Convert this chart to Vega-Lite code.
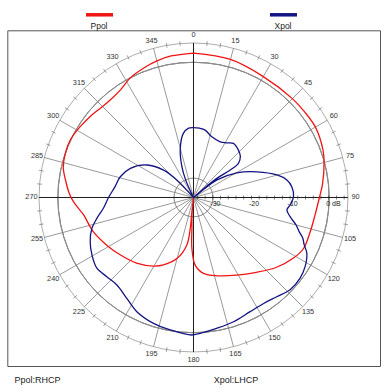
{
  "$schema": "https://vega.github.io/schema/vega-lite/v6.json",
  "width": 372.7,
  "height": 335.7,
  "autosize": {"type": "none"},
  "padding": {"left": 7.3, "top": 30.3, "right": 6, "bottom": 26},
  "background": "white",
  "config": {
    "view": {"stroke": "#555555", "strokeWidth": 1},
    "font": "Liberation Sans"
  },
  "datasets": {
    "pattern": [
      {"pol": "Ppol", "angle": 0, "db": 2.4},
      {"pol": "Ppol", "angle": 15, "db": 2.0},
      {"pol": "Ppol", "angle": 30, "db": 1.15},
      {"pol": "Ppol", "angle": 45, "db": 1.2},
      {"pol": "Ppol", "angle": 52, "db": 1.3},
      {"pol": "Ppol", "angle": 60, "db": 1.45},
      {"pol": "Ppol", "angle": 70, "db": 0.7},
      {"pol": "Ppol", "angle": 75, "db": 0.0},
      {"pol": "Ppol", "angle": 84, "db": -1.4},
      {"pol": "Ppol", "angle": 90, "db": -2.4},
      {"pol": "Ppol", "angle": 98, "db": -3.2},
      {"pol": "Ppol", "angle": 106, "db": -3.5},
      {"pol": "Ppol", "angle": 115, "db": -3.6},
      {"pol": "Ppol", "angle": 121, "db": -4.7},
      {"pol": "Ppol", "angle": 130, "db": -6.9},
      {"pol": "Ppol", "angle": 140, "db": -9.7},
      {"pol": "Ppol", "angle": 151, "db": -12.0},
      {"pol": "Ppol", "angle": 163, "db": -13.8},
      {"pol": "Ppol", "angle": 172.5, "db": -15.2},
      {"pol": "Ppol", "angle": 178.6, "db": -17.5},
      {"pol": "Ppol", "angle": 181.8, "db": -21.8},
      {"pol": "Ppol", "angle": 183, "db": -27.2},
      {"pol": "Ppol", "angle": 185, "db": -30.5},
      {"pol": "Ppol", "angle": 185, "db": -35},
      {"pol": "Ppol", "angle": 186.4, "db": -31.3},
      {"pol": "Ppol", "angle": 186, "db": -27},
      {"pol": "Ppol", "angle": 188, "db": -22.6},
      {"pol": "Ppol", "angle": 195, "db": -18.7},
      {"pol": "Ppol", "angle": 204, "db": -15.9},
      {"pol": "Ppol", "angle": 210, "db": -14.5},
      {"pol": "Ppol", "angle": 221, "db": -12.5},
      {"pol": "Ppol", "angle": 232, "db": -10.9},
      {"pol": "Ppol", "angle": 241, "db": -9.4},
      {"pol": "Ppol", "angle": 251, "db": -7.6},
      {"pol": "Ppol", "angle": 261, "db": -6.2},
      {"pol": "Ppol", "angle": 264.6, "db": -5.1},
      {"pol": "Ppol", "angle": 268, "db": -3.9},
      {"pol": "Ppol", "angle": 272, "db": -2.8},
      {"pol": "Ppol", "angle": 278, "db": -1.5},
      {"pol": "Ppol", "angle": 283, "db": -0.4},
      {"pol": "Ppol", "angle": 289, "db": 0.1},
      {"pol": "Ppol", "angle": 295, "db": 0.2},
      {"pol": "Ppol", "angle": 302, "db": -0.4},
      {"pol": "Ppol", "angle": 308, "db": -1.0},
      {"pol": "Ppol", "angle": 314, "db": -1.6},
      {"pol": "Ppol", "angle": 319.5, "db": -1.8},
      {"pol": "Ppol", "angle": 326, "db": -1.3},
      {"pol": "Ppol", "angle": 332, "db": 0.0},
      {"pol": "Ppol", "angle": 339, "db": 0.9},
      {"pol": "Ppol", "angle": 345, "db": 1.6},
      {"pol": "Ppol", "angle": 351, "db": 2.1},
      {"pol": "Ppol", "angle": 360, "db": 2.4},
      {"pol": "Xpol", "angle": 330, "db": -35},
      {"pol": "Xpol", "angle": 336, "db": -30},
      {"pol": "Xpol", "angle": 339.4, "db": -26.5},
      {"pol": "Xpol", "angle": 344.4, "db": -22.2},
      {"pol": "Xpol", "angle": 351, "db": -18.2},
      {"pol": "Xpol", "angle": 356, "db": -17.0},
      {"pol": "Xpol", "angle": 0, "db": -16.9},
      {"pol": "Xpol", "angle": 5, "db": -17.0},
      {"pol": "Xpol", "angle": 9.8, "db": -17.3},
      {"pol": "Xpol", "angle": 16.8, "db": -18.6},
      {"pol": "Xpol", "angle": 25.6, "db": -19.0},
      {"pol": "Xpol", "angle": 31, "db": -18.5},
      {"pol": "Xpol", "angle": 36.4, "db": -17.6},
      {"pol": "Xpol", "angle": 43.5, "db": -18.1},
      {"pol": "Xpol", "angle": 48.9, "db": -18.9},
      {"pol": "Xpol", "angle": 52.8, "db": -20.4},
      {"pol": "Xpol", "angle": 53.2, "db": -23.1},
      {"pol": "Xpol", "angle": 50.6, "db": -27.2},
      {"pol": "Xpol", "angle": 50, "db": -35},
      {"pol": "Xpol", "angle": 53.2, "db": -27.4},
      {"pol": "Xpol", "angle": 60.3, "db": -22.1},
      {"pol": "Xpol", "angle": 67.9, "db": -17.3},
      {"pol": "Xpol", "angle": 74.9, "db": -12.6},
      {"pol": "Xpol", "angle": 79.4, "db": -10.4},
      {"pol": "Xpol", "angle": 83.7, "db": -9.4},
      {"pol": "Xpol", "angle": 89.5, "db": -9.1},
      {"pol": "Xpol", "angle": 94.4, "db": -9.9},
      {"pol": "Xpol", "angle": 97.6, "db": -10.6},
      {"pol": "Xpol", "angle": 101.2, "db": -9.5},
      {"pol": "Xpol", "angle": 105, "db": -7.5},
      {"pol": "Xpol", "angle": 108, "db": -6.2},
      {"pol": "Xpol", "angle": 110.4, "db": -4.8},
      {"pol": "Xpol", "angle": 113, "db": -3.9},
      {"pol": "Xpol", "angle": 116.2, "db": -2.3},
      {"pol": "Xpol", "angle": 121.8, "db": -1.0},
      {"pol": "Xpol", "angle": 127.1, "db": -0.4},
      {"pol": "Xpol", "angle": 133.7, "db": -0.4},
      {"pol": "Xpol", "angle": 140, "db": -1.45},
      {"pol": "Xpol", "angle": 146.5, "db": -2.1},
      {"pol": "Xpol", "angle": 153.6, "db": -2.0},
      {"pol": "Xpol", "angle": 162.1, "db": -1.2},
      {"pol": "Xpol", "angle": 170, "db": -0.6},
      {"pol": "Xpol", "angle": 177.2, "db": 0.2},
      {"pol": "Xpol", "angle": 180.7, "db": 0.6},
      {"pol": "Xpol", "angle": 190, "db": -0.2},
      {"pol": "Xpol", "angle": 197.6, "db": -0.8},
      {"pol": "Xpol", "angle": 206.4, "db": -2.0},
      {"pol": "Xpol", "angle": 213.5, "db": -3.7},
      {"pol": "Xpol", "angle": 221.2, "db": -4.9},
      {"pol": "Xpol", "angle": 227.6, "db": -4.6},
      {"pol": "Xpol", "angle": 233.8, "db": -4.0},
      {"pol": "Xpol", "angle": 240.5, "db": -4.8},
      {"pol": "Xpol", "angle": 246.8, "db": -5.9},
      {"pol": "Xpol", "angle": 253.1, "db": -7.5},
      {"pol": "Xpol", "angle": 257.8, "db": -9.4},
      {"pol": "Xpol", "angle": 263.2, "db": -11.5},
      {"pol": "Xpol", "angle": 270, "db": -13.0},
      {"pol": "Xpol", "angle": 277.9, "db": -14.5},
      {"pol": "Xpol", "angle": 285.8, "db": -15.3},
      {"pol": "Xpol", "angle": 294.8, "db": -17.0},
      {"pol": "Xpol", "angle": 304.9, "db": -20.3},
      {"pol": "Xpol", "angle": 312.5, "db": -24.5},
      {"pol": "Xpol", "angle": 316.5, "db": -28.8},
      {"pol": "Xpol", "angle": 320, "db": -35}
    ],
    "rings": [{"db": -30}, {"db": -20}, {"db": -10}, {"db": 0}, {"db": 5}],
    "spokes": [
      {"a": 0}, {"a": 15}, {"a": 30}, {"a": 45}, {"a": 60}, {"a": 75},
      {"a": 90}, {"a": 105}, {"a": 120}, {"a": 135}, {"a": 150}, {"a": 165},
      {"a": 180}, {"a": 195}, {"a": 210}, {"a": 225}, {"a": 240}, {"a": 255},
      {"a": 270}, {"a": 285}, {"a": 300}, {"a": 315}, {"a": 330}, {"a": 345}
    ],
    "minor": [
      {"a": 5}, {"a": 10}, {"a": 20}, {"a": 25}, {"a": 35}, {"a": 40},
      {"a": 50}, {"a": 55}, {"a": 65}, {"a": 70}, {"a": 80}, {"a": 85},
      {"a": 95}, {"a": 100}, {"a": 110}, {"a": 115}, {"a": 125}, {"a": 130},
      {"a": 140}, {"a": 145}, {"a": 155}, {"a": 160}, {"a": 170}, {"a": 175},
      {"a": 185}, {"a": 190}, {"a": 200}, {"a": 205}, {"a": 215}, {"a": 220},
      {"a": 230}, {"a": 235}, {"a": 245}, {"a": 250}, {"a": 260}, {"a": 265},
      {"a": 275}, {"a": 280}, {"a": 290}, {"a": 295}, {"a": 305}, {"a": 310},
      {"a": 320}, {"a": 325}, {"a": 335}, {"a": 340}, {"a": 350}, {"a": 355}
    ],
    "rticks": [
      {"db": -34}, {"db": -32}, {"db": -30}, {"db": -28}, {"db": -26},
      {"db": -24}, {"db": -22}, {"db": -20}, {"db": -18}, {"db": -16},
      {"db": -14}, {"db": -12}, {"db": -10}, {"db": -8}, {"db": -6},
      {"db": -4}, {"db": -2}, {"db": 0}, {"db": 2}, {"db": 4}
    ],
    "rlabels": [
      {"db": -30, "t": "-30"}, {"db": -20, "t": "-20"},
      {"db": -10, "t": "-10"}, {"db": 0, "t": "0 dB"}
    ]
  },
  "encoding": {
    "x": {
      "field": "X", "type": "quantitative",
      "scale": {"domain": [-48.207, 48.285], "nice": false, "zero": false},
      "axis": {
        "title": "Xpol:LHCP", "domain": false, "ticks": false, "labels": false, "grid": false,
        "titleAngle": 0, "titleX": 206, "titleY": 9.5, "titleAlign": "left", "titleBaseline": "top",
        "titleFont": "Liberation Sans", "titleFontSize": 9, "titleFontWeight": "normal", "titleColor": "#222222"
      }
    },
    "y": {
      "field": "Y", "type": "quantitative",
      "scale": {"domain": [-43.625, 43.288], "nice": false, "zero": false},
      "axis": {
        "title": "Ppol:RHCP", "domain": false, "ticks": false, "labels": false, "grid": false,
        "titleAngle": 0, "titleX": 6.7, "titleY": 345.2, "titleAlign": "left", "titleBaseline": "top",
        "titleFont": "Liberation Sans", "titleFontSize": 9, "titleFontWeight": "normal", "titleColor": "#222222"
      }
    }
  },
  "layer": [
    {
      "data": {"name": "rings"},
      "transform": [
        {"calculate": "0", "as": "X"},
        {"calculate": "0", "as": "Y"}
      ],
      "mark": {"type": "arc", "filled": false, "fill": null, "stroke": "#8a8a8a", "strokeWidth": 0.7, "theta": 0, "theta2": 6.2832},
      "encoding": {
        "radius": {"field": "db", "type": "quantitative", "scale": {"type": "linear", "domain": [-35, 5], "range": [0, 154.5], "zero": false, "nice": false}}
      }
    },
    {
      "data": {"name": "spokes"},
      "transform": [
        {"calculate": "0", "as": "X"},
        {"calculate": "0", "as": "Y"},
        {"calculate": "40*sin(datum.a*PI/180)", "as": "X2"},
        {"calculate": "40*cos(datum.a*PI/180)", "as": "Y2"}
      ],
      "mark": {"type": "rule"},
      "encoding": {
        "x2": {"field": "X2"},
        "y2": {"field": "Y2"},
        "color": {"condition": {"test": "datum.a % 90 === 0", "value": "#1e1e1e"}, "value": "#808080"},
        "strokeWidth": {"condition": {"test": "datum.a % 90 === 0", "value": 1}, "value": 0.8}
      }
    },
    {
      "data": {"name": "minor"},
      "transform": [
        {"calculate": "39.4*sin(datum.a*PI/180)", "as": "X"},
        {"calculate": "39.4*cos(datum.a*PI/180)", "as": "Y"},
        {"calculate": "40.6*sin(datum.a*PI/180)", "as": "X2"},
        {"calculate": "40.6*cos(datum.a*PI/180)", "as": "Y2"}
      ],
      "mark": {"type": "rule", "color": "#777777", "strokeWidth": 0.7},
      "encoding": {
        "x2": {"field": "X2"},
        "y2": {"field": "Y2"}
      }
    },
    {
      "data": {"name": "spokes"},
      "transform": [
        {"calculate": "41.95*sin(datum.a*PI/180)", "as": "X"},
        {"calculate": "41.95*cos(datum.a*PI/180)", "as": "Y"}
      ],
      "mark": {"type": "text", "align": "center", "baseline": "middle", "fontSize": 7.3, "color": "#333333", "font": "Liberation Sans"},
      "encoding": {
        "text": {"field": "a", "type": "nominal"}
      }
    },
    {
      "data": {"name": "rticks"},
      "transform": [
        {"calculate": "datum.db+35", "as": "X"},
        {"calculate": "0", "as": "Y"}
      ],
      "mark": {"type": "tick", "orient": "vertical", "size": 4, "thickness": 0.8, "color": "#222222"}
    },
    {
      "data": {"name": "rlabels"},
      "transform": [
        {"calculate": "datum.db+35", "as": "X"},
        {"calculate": "0", "as": "Y"}
      ],
      "mark": {"type": "text", "align": "left", "baseline": "alphabetic", "dx": -2.5, "dy": 9, "fontSize": 7, "color": "#222222", "font": "Liberation Sans"},
      "encoding": {
        "text": {"field": "t", "type": "nominal"}
      }
    },
    {
      "data": {"name": "pattern"},
      "transform": [
        {"calculate": "(datum.db+35)*sin(datum.angle*PI/180)", "as": "X"},
        {"calculate": "(datum.db+35)*cos(datum.angle*PI/180)", "as": "Y"}
      ],
      "mark": {"type": "line", "strokeWidth": 1.3, "interpolate": "catmull-rom"},
      "encoding": {
        "order": {"value": null},
        "color": {
          "field": "pol", "type": "nominal",
          "scale": {"domain": ["Ppol", "Xpol"], "range": ["#f01414", "#141482"]},
          "legend": {
            "orient": "none", "legendX": 76.7, "legendY": -31, "direction": "horizontal",
            "title": null, "symbolType": "stroke", "symbolSize": 729, "symbolStrokeWidth": 3.5,
            "labelAlign": "center", "labelOffset": -16, "labelFontSize": 8.5, "labelFont": "Liberation Sans",
            "labelColor": "#222222", "columnPadding": 143, "padding": 0,
            "encode": {"labels": {"update": {"dy": {"value": 11}}}}
          }
        }
      }
    }
  ]
}
